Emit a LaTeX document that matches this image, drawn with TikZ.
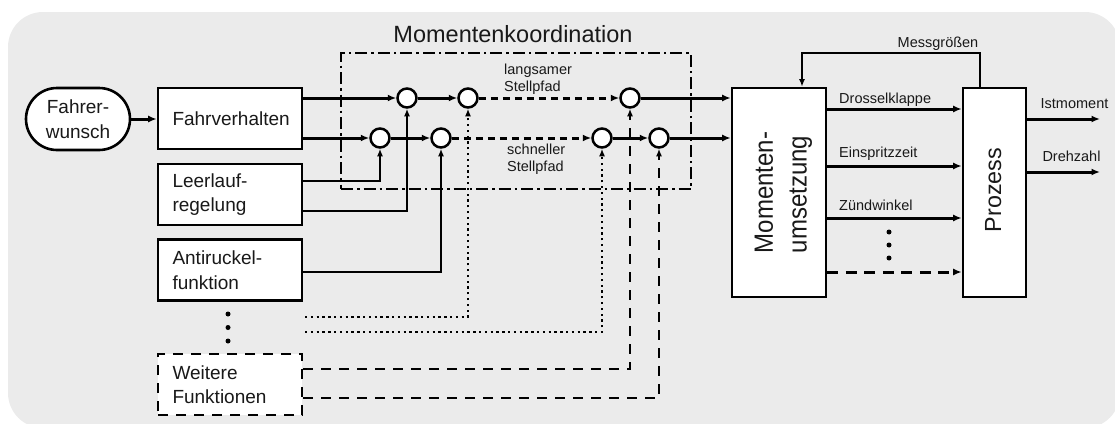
\documentclass[tikz,border=0pt]{standalone}
\usepackage{fontspec}
\setmainfont{Liberation Sans}
\usetikzlibrary{arrows.meta,shapes.misc}
\definecolor{bggray}{RGB}{235,235,235}
\definecolor{txt}{RGB}{25,25,25}
\begin{document}
\begin{tikzpicture}[x=1pt,y=-1pt,
  box/.style={draw=black, line width=2.6pt, fill=white},
  lbox/.style={box, text width=115pt, inner xsep=14.5pt, inner ysep=0pt, align=left,
    minimum height=61pt, font=\fontsize{19}{24.5}\selectfont, text=txt},
  sumnode/.style={circle, draw=black, line width=2.5pt, fill=white, minimum size=19pt, inner sep=0pt},
  main/.style={line width=3pt},
  thinline/.style={line width=2pt},
  arr/.style={-{Latex[length=8.5pt,width=7pt]}},
  tarr/.style={-{Latex[length=7.5pt,width=6pt]}},
  sdash/.style={dash pattern=on 7pt off 5pt},
  ldash/.style={line width=2.5pt, dash pattern=on 10pt off 8pt},
  dotline/.style={line width=2.3pt, dash pattern=on 2.3pt off 3.5pt},
  dashdot/.style={line width=2.3pt, dash pattern=on 12pt off 4pt on 2.5pt off 4pt},
  small/.style={font=\fontsize{14.5}{17}\selectfont, text=txt, inner sep=0pt},
  dotmark/.style={circle, fill=black, inner sep=0pt, minimum size=5pt}
]
\useasboundingbox (0,0) rectangle (1115,423);
\fill[bggray, rounded corners=35pt] (8,12) rectangle (1120,428);

% Momentenkoordination frame
\node[draw=black, dashdot, minimum width=350pt, minimum height=136pt, inner sep=0pt] (mk) at (516,121) {};
\node[anchor=base, inner sep=0pt, font=\fontsize{23.5}{28}\selectfont, text=txt] (mkt) at (513,42.7) {Momentenkoordination};

% left blocks
\node[box, rounded rectangle, minimum width=104pt, minimum height=62pt, inner sep=0pt,
  align=center, font=\fontsize{19}{24.5}\selectfont, text=txt] (fw) at (78,119) {Fahrer-\\wunsch};
\node[lbox, align=center] (fv) at (230,118.5) {Fahrverhalten};
\node[lbox] (ll) at (230,194.5) {Leerlauf-\\regelung};
\node[lbox] (ar) at (230,270) {Antiruckel-\\funktion};
\node[lbox, ldash] (wf) at (230,384.5) {Weitere\\Funktionen};

\node[dotmark] (e1) at (228,314) {};
\node[dotmark] (e2) at (228,327.5) {};
\node[dotmark] (e3) at (228,341) {};

% summation circles
\node[sumnode] (c1) at (407,98) {};
\node[sumnode] (c2) at (468,98) {};
\node[sumnode] (c3) at (630,98) {};
\node[sumnode] (cA) at (380,138) {};
\node[sumnode] (cB) at (441,138) {};
\node[sumnode] (cC) at (602,138) {};
\node[sumnode] (cD) at (659,138) {};

\node[small, anchor=west, align=left] (lsp) at (504,79) {langsamer\\Stellpfad};
\node[small, anchor=west, align=left] (ssp) at (507,159) {schneller\\Stellpfad};

% right blocks
\node[box, minimum width=94pt, minimum height=209pt, inner sep=0pt] (mu) at (779,192.5) {};
\node[rotate=90, align=left, inner sep=0pt, font=\fontsize{24}{30.7}\selectfont, text=txt, yscale=1.1] (mut) at (783.5,192.5) {Momenten-\\umsetzung};
\node[box, minimum width=63pt, minimum height=209pt, inner sep=0pt] (pr) at (994.5,192.5) {};
\node[rotate=90, inner sep=0pt, font=\fontsize{23.3}{28}\selectfont, text=txt] (prt) at (993.3,190) {Prozess};

% connectors left
\draw[main,arr] (fw.east) -- (fw.east -| fv.west);
\draw[main,arr] (fv.east |- c1) -- (c1);
\draw[main,arr] (c1) -- (c2);
\draw[main,sdash,arr] (c2) -- (c3);
\draw[main,arr] (c3) -- (c3 -| mu.west);
\draw[main,arr] (fv.east |- cA) -- (cA);
\draw[main,arr] (cA) -- (cB);
\draw[main,sdash,arr] (cB) -- (cC);
\draw[main,arr] (cC) -- (cD);
\draw[main,arr] (cD) -- (cD -| mu.west);

\draw[thinline,tarr] ([yshift=13.5pt]ll.east) -| (cA);
\draw[thinline,tarr] ([yshift=-16.5pt]ll.east) -| (c1);
\draw[thinline,tarr] ([yshift=-2pt]ar.east) -| (cB);

\coordinate (d1) at (305,317);
\coordinate (d2) at (305,332);
\draw[dotline,tarr] (d1) -| (c2);
\draw[dotline,tarr] (d2) -| (cC);
\draw[ldash,tarr] ([yshift=15.5pt]wf.east) -| (c3);
\draw[ldash,tarr] ([yshift=-13.5pt]wf.east) -| (cD);

% Momentenumsetzung -> Prozess
\coordinate (m1) at ([yshift=83.5pt]mu.east);
\coordinate (m2) at ([yshift=26.5pt]mu.east);
\coordinate (m3) at ([yshift=-25.5pt]mu.east);
\coordinate (m4) at ([yshift=-79.5pt]mu.east);
\draw[main,arr] (m1) -- (m1 -| pr.west);
\draw[main,arr] (m2) -- (m2 -| pr.west);
\draw[main,arr] (m3) -- (m3 -| pr.west);
\draw[main,dash pattern=on 11pt off 7.5pt,arr] (m4) -- (m4 -| pr.west);

\node[small, anchor=base west] (ldk) at (839,103.5) {Drosselklappe};
\node[small, anchor=base west] (lez) at (839,157.5) {Einspritzzeit};
\node[small, anchor=base west] (lzw) at (839,210) {Zündwinkel};

\node[dotmark] (f1) at (889,232) {};
\node[dotmark] (f2) at (889,245) {};
\node[dotmark] (f3) at (889,258) {};

% outputs
\coordinate (o1) at ([yshift=73.5pt]pr.east);
\coordinate (o2) at ([yshift=20.5pt]pr.east);
\coordinate (o1e) at (1100,119);
\coordinate (o2e) at (1100,172);
\draw[main,arr] (o1) -- (o1e);
\draw[main,arr] (o2) -- (o2e);
\node[small, anchor=base] (lim) at (1074.5,108.3) {Istmoment};
\node[small, anchor=base] (ldz) at (1071.5,161.7) {Drehzahl};

% feedback
\coordinate (fb) at (891,53);
\draw[thinline,tarr] ([xshift=-14.5pt]pr.north) |- (fb) -| ([xshift=23pt]mu.north);
\node[small, anchor=base] (lmg) at (938,47.3) {Messgrößen};
\end{tikzpicture}
\end{document}
